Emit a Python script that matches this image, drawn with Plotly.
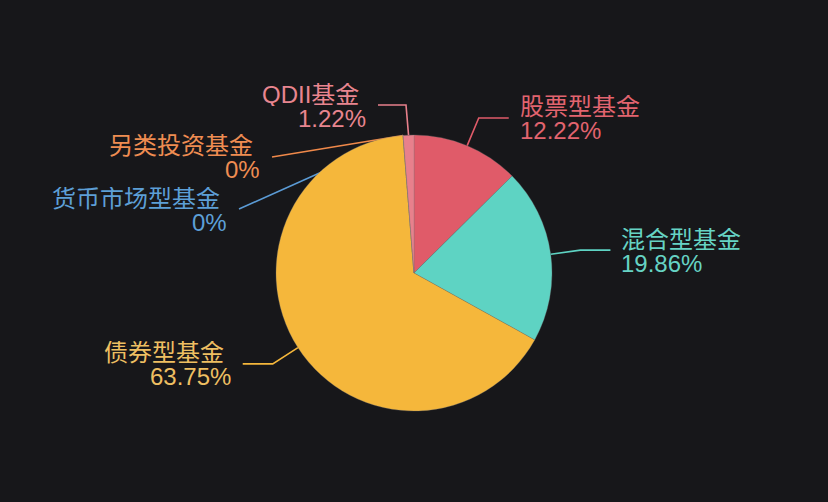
import math
import plotly.graph_objects as go

# ---- data ----
categories = ["股票型基金", "混合型基金", "债券型基金", "货币市场型基金", "另类投资基金", "QDII基金"]
values = [12.22, 19.86, 63.75, 0, 0, 1.22]
pct_labels = ["12.22%", "19.86%", "63.75%", "0%", "0%", "1.22%"]
colors = ["#e05b69", "#5ed3c3", "#f5b73b", "#5b9bd5", "#f0894a", "#e8808c"]
text_colors = ["#e2646f", "#66d3c4", "#eebf62", "#5d9fd6", "#ef8d52", "#e8858f"]

# ---- layout constants (pixels) ----
W, H = 828, 502
CX, CY, R = 414, 273, 138
L1, L2 = 30, 30
BG = "#17171a"
FONT = "Liberation Sans, Noto Sans CJK SC, sans-serif"
FS = 24

# label placement overrides for tiny slices (elbow, end) in pixels — layout only
overrides = {
    "QDII基金": ((406, 105), (378, 105)),
    "另类投资基金": ((272, 157), (272, 157)),
    "货币市场型基金": ((239, 209), (239, 209)),
}


def px(x, y):
    return x / W, 1 - y / H


fig = go.Figure()
fig.add_trace(go.Pie(
    labels=categories, values=values, sort=False, direction="clockwise", rotation=0,
    marker=dict(colors=colors, line=dict(color="rgba(120,120,120,0.5)", width=0.6)),
    textinfo="none", hoverinfo="label+percent", showlegend=False,
    domain=dict(x=[(CX - R) / W, (CX + R) / W], y=[(H - CY - R) / H, (H - CY + R) / H]),
))

total = sum(values)
cum = 0
shapes, annots = [], []
for name, v, pl, c, tc in zip(categories, values, pct_labels, colors, text_colors):
    theta = math.radians((cum + v / 2) / total * 360)
    cum += v
    sx, sy = CX + R * math.sin(theta), CY - R * math.cos(theta)
    if name in overrides:
        (ex, ey), (tx, ty) = overrides[name]
    else:
        ex, ey = sx + L1 * math.sin(theta), sy - L1 * math.cos(theta)
        side = 1 if math.sin(theta) >= 0 else -1
        tx, ty = ex + side * L2, ey
    right = tx >= CX
    pts = [(sx, sy), (ex, ey), (tx, ty)]
    path = "M " + " L ".join(f"{px(x, y)[0]},{px(x, y)[1]}" for x, y in pts)
    shapes.append(dict(type="path", path=path, xref="paper", yref="paper",
                       line=dict(color=c, width=1.6), layer="below"))
    if right:
        nx, qx, anchor = tx + 10, tx + 10, "left"
    else:
        nx, qx, anchor = tx - 18, tx - 11, "right"
    for text, x, y in ((name, nx, ty - 11), (pl, qx, ty + 13)):
        ax, ay = px(x, y)
        annots.append(dict(text=text, x=ax, y=ay, xref="paper", yref="paper",
                           xanchor=anchor, yanchor="middle", showarrow=False,
                           height=23, borderpad=0,
                           font=dict(family=FONT, size=FS, color=tc)))

fig.update_layout(
    width=W, height=H, margin=dict(l=0, r=0, t=0, b=0),
    paper_bgcolor=BG, plot_bgcolor=BG,
    shapes=shapes, annotations=annots,
)
fig.write_html(
    "out.html",
    config={"displayModeBar": False},
    post_script="document.body.style.margin='0';document.body.style.background='%s';" % BG,
)
